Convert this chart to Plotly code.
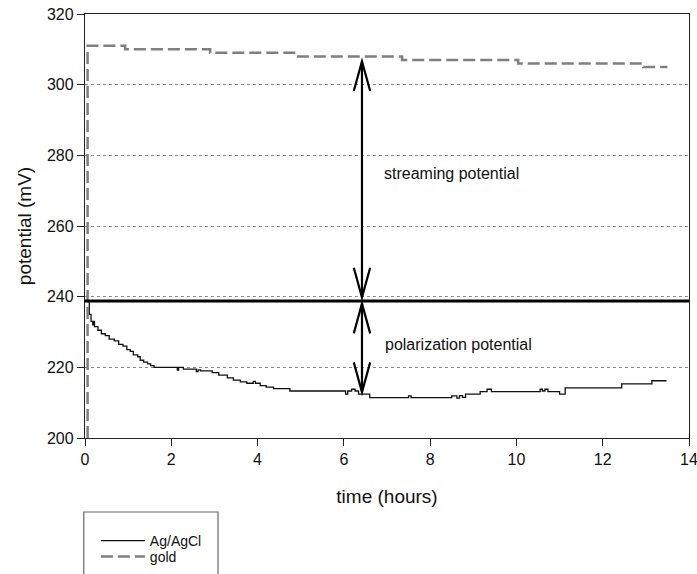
import plotly.graph_objects as go

# ---- data ----
gold_t = [0.06, 0.06, 0.93, 2.90, 4.90, 7.35, 10.04, 12.94, 13.50]
gold_v = [200.0, 311.0, 310.0, 309.0, 308.0, 307.0, 306.0, 305.0, 305.0]

ag_t = [0.04, 0.10, 0.14, 0.18, 0.20, 0.22, 0.30, 0.38, 0.47, 0.56, 0.68, 0.78, 0.88,
        0.97, 1.05, 1.12, 1.22, 1.28, 1.36, 1.45, 1.52, 1.60, 2.14, 2.17, 2.28, 2.58,
        2.62, 2.68, 2.95, 3.10, 3.30, 3.44, 3.60, 3.75, 3.90, 3.95, 4.06, 4.20, 4.37,
        4.75, 6.04, 6.09, 6.18, 6.26, 6.34, 6.60, 7.50, 7.56, 8.50, 8.62, 8.68, 8.75,
        8.82, 8.95, 9.16, 9.32, 9.42, 10.55, 10.60, 10.66, 10.73, 11.00, 11.13, 12.44,
        13.14, 13.48]
ag_v = [238.6, 235.0, 233.0, 232.0, 233.0, 231.5, 230.5, 229.5, 229.0, 228.0, 227.5,
        226.5, 226.0, 225.0, 224.5, 223.5, 223.0, 222.0, 221.5, 221.0, 220.5, 220.0,
        219.2, 220.0, 219.5, 218.8, 219.3, 219.0, 218.5, 217.8, 217.0, 216.4, 215.9,
        215.5, 216.0, 215.5, 214.8, 214.4, 214.0, 213.3, 212.4, 213.3, 213.8, 213.3,
        212.4, 211.4, 211.9, 211.4, 211.9, 211.3, 212.0, 211.5, 212.4, 212.4, 213.1,
        213.8, 213.1, 213.8, 213.3, 213.8, 213.1, 212.4, 214.2, 215.3, 216.2, 216.2]

x_ticks = [0, 2, 4, 6, 8, 10, 12, 14]
y_ticks = [200, 220, 240, 260, 280, 300, 320]

reference_level = 238.8      # thick horizontal line (Ag/AgCl start level)
arrow_t = 6.42               # time of the double-headed arrows
# (start, end) levels of the two double-headed arrows
arrow_spans = [(239.8, 306.6), (238.0, 213.0)]
streaming_label = ("streaming potential", 6.88, 275.0)
polarization_label = ("polarization potential", 6.90, 226.6)

# arrowhead size (data units)
HEAD_LEN = 8.4     # mV
HEAD_HALF = 0.19   # hours

FONT = "Liberation Sans, Arial, sans-serif"

fig = go.Figure()
fig.add_trace(go.Scatter(x=ag_t, y=ag_v, mode="lines", name="Ag/AgCl",
                         line=dict(color="#111111", width=1.3, shape="hv"),
                         legend="legend", showlegend=True))
fig.add_trace(go.Scatter(x=gold_t, y=gold_v, mode="lines", name="gold",
                         line=dict(color="#7f7f7f", width=2.5, dash="12px,5px", shape="hv"),
                         legend="legend2", showlegend=True))

# thick horizontal reference line
fig.add_shape(type="line", xref="x", yref="y", x0=0, x1=14,
              y0=reference_level, y1=reference_level,
              line=dict(color="black", width=3))


def head(tip, direction):
    """open V arrowhead with its tip at (arrow_t, tip); direction +1 up, -1 down"""
    base = tip - direction * HEAD_LEN
    return (f"M {arrow_t - HEAD_HALF},{base} L {arrow_t},{tip} "
            f"L {arrow_t + HEAD_HALF},{base}")


for a, b in arrow_spans:
    fig.add_shape(type="line", xref="x", yref="y", x0=arrow_t, x1=arrow_t,
                  y0=a, y1=b, line=dict(color="black", width=2.2))
    d = 1 if b > a else -1
    for tip, direc in ((b, d), (a, -d)):
        fig.add_shape(type="path", xref="x", yref="y", path=head(tip, direc),
                      line=dict(color="black", width=2.2))

for txt, tx, ty in (streaming_label, polarization_label):
    fig.add_annotation(x=tx, y=ty, xref="x", yref="y", text=txt, showarrow=False,
                       xanchor="left", yanchor="middle",
                       font=dict(family=FONT, size=16, color="#111111"))

# legend frame (cut by bottom edge in reference)
fig.add_shape(type="rect", xref="paper", yref="paper",
              x0=-0.002, x1=0.2202, y0=-0.40, y1=-0.1745,
              line=dict(color="#666666", width=1.2), fillcolor="rgba(0,0,0,0)")

legend_common = dict(bgcolor="rgba(0,0,0,0)", borderwidth=0, itemwidth=44,
                     font=dict(family=FONT, size=14, color="#111111"),
                     xanchor="left", yanchor="middle", x=0.018)
fig.update_layout(
    width=697, height=574,
    margin=dict(l=85, r=8, t=14, b=136, autoexpand=False),
    showlegend=True,
    paper_bgcolor="white", plot_bgcolor="white",
    font=dict(family=FONT, color="#111111"),
    legend=dict(**legend_common, y=(438 - 541) / 424),
    legend2=dict(**legend_common, y=(438 - 557) / 424),
    xaxis=dict(range=[0, 14], tickvals=x_ticks, ticks="outside", ticklen=7,
               tickcolor="#222222", showline=True, linecolor="#222222", linewidth=1.3,
               mirror=True, showgrid=False, zeroline=False, automargin=False,
               ticklabeloverflow="allow",
               tickfont=dict(family=FONT, size=16, color="#111111"),
               title=dict(text="time (hours)", standoff=22,
                          font=dict(family=FONT, size=19, color="#111111"))),
    yaxis=dict(range=[200, 320], tickvals=y_ticks, ticks="outside", ticklen=7,
               tickcolor="#222222", showline=True, linecolor="#222222", linewidth=1.3,
               mirror=True, showgrid=True, gridcolor="#8a8a8a", griddash="dot",
               gridwidth=1, zeroline=False, automargin=False,
               ticklabeloverflow="allow",
               tickfont=dict(family=FONT, size=16, color="#111111"),
               title=dict(text="potential (mV)", standoff=10,
                          font=dict(family=FONT, size=19, color="#111111"))),
)

fig.write_html("out.html")
